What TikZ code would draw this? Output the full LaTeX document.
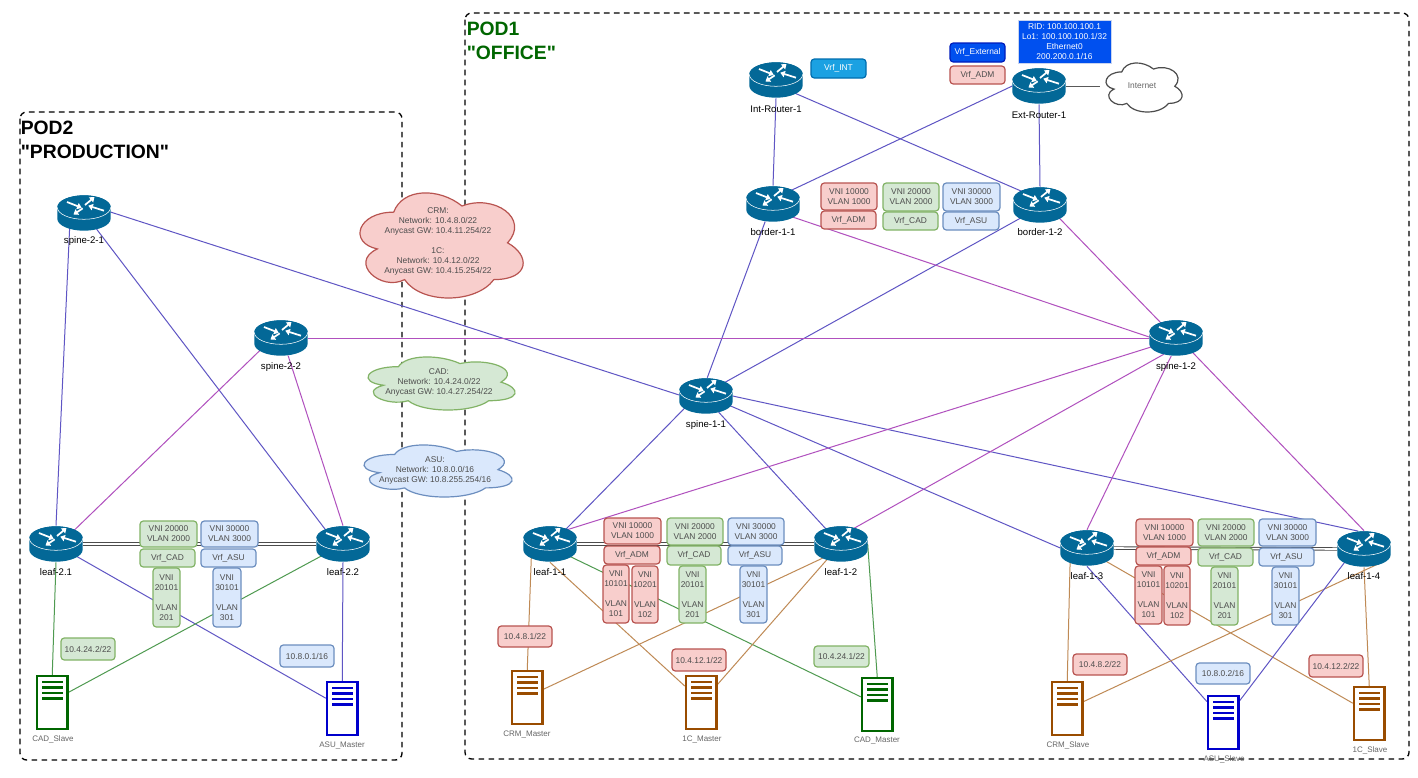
\documentclass[tikz,border=0pt]{standalone}
\usepackage{fontspec}
\setmainfont{Liberation Sans}
\newfontfamily\titlefont{Liberation Sans}
\usetikzlibrary{arrows.meta,shapes.geometric,backgrounds}
\definecolor{rtcol}{HTML}{036897}
\definecolor{redf}{HTML}{F8CECC}\definecolor{reds}{HTML}{B85450}
\definecolor{grnf}{HTML}{D5E8D4}\definecolor{grns}{HTML}{82B366}
\definecolor{bluf}{HTML}{DAE8FC}\definecolor{blus}{HTML}{6C8EBF}
\definecolor{txtc}{HTML}{4D4D4D}
\definecolor{lblue}{HTML}{5F55C4}\definecolor{lpurp}{HTML}{B050BE}
\definecolor{ltan}{HTML}{BF8A55}\definecolor{lgreen}{HTML}{4F9A50}
\definecolor{srvbr}{HTML}{994C00}\definecolor{srvgr}{HTML}{006600}\definecolor{srvbl}{HTML}{0000CC}
\definecolor{intf}{HTML}{1BA1E2}\definecolor{ints}{HTML}{006EAF}
\definecolor{extf}{HTML}{0050EF}\definecolor{exts}{HTML}{001DBC}
\definecolor{ridb}{HTML}{C8D4F0}\definecolor{podg}{HTML}{006600}
\tikzset{
  txt/.style={font=\fontsize{6.3pt}{7.5pt}\selectfont,text=txtc,align=center,inner sep=0pt},
  tag/.style={txt,rounded corners=2.5pt,line width=0.9pt},
  redbox/.style={tag,fill=redf,draw=reds},
  grnbox/.style={tag,fill=grnf,draw=grns},
  blubox/.style={tag,fill=bluf,draw=blus},
  routernode/.style={ellipse,minimum width=40pt,minimum height=27.5pt,inner sep=0pt,outer sep=0pt},
  rlabel/.style={font=\fontsize{7.2pt}{8pt}\selectfont,text=black,inner sep=0pt},
  slabel/.style={font=\fontsize{6pt}{7pt}\selectfont,text=black!60,inner sep=0pt},
  title/.style={font=\titlefont\fontsize{14.5pt}{18pt}\selectfont\bfseries,align=left,anchor=north west,inner sep=0pt},
  pod/.style={draw=black,line width=1pt,dash pattern=on 4.2pt off 3.3pt,rounded corners=5pt},
  blueln/.style={draw=lblue,line width=0.75pt},
  purpln/.style={draw=lpurp,line width=0.75pt},
  tanln/.style={draw=ltan,line width=0.75pt},
  grnln/.style={draw=lgreen,line width=0.75pt},
  dbl/.style={draw=black!70,double=white,double distance=1.2pt,line width=0.7pt},
}
% visual bounding box x1 y1 x2 y2 of the cloud
\newcommand\cloudart[6]{%
  \pgfmathsetmacro\cw{(#3-#1)/0.895}\pgfmathsetmacro\ch{(#4-#2)/0.856}%
  \pgfmathsetmacro\cxo{#1-0.065*\cw}\pgfmathsetmacro\cyo{#2-0.094*\ch}%
  \begin{scope}[shift={(\cxo,\cyo)},x=\cw*0.75pt,y=-\ch*0.75pt]
  \path[fill=#5,draw=#6,line width=0.9pt] (0.25,0.25)
    .. controls (0.05,0.25) and (0,0.5) .. (0.16,0.55)
    .. controls (0,0.66) and (0.18,0.9) .. (0.31,0.8)
    .. controls (0.4,1) and (0.7,1) .. (0.8,0.8)
    .. controls (1,0.8) and (1,0.6) .. (0.875,0.5)
    .. controls (1,0.3) and (0.8,0.1) .. (0.625,0.2)
    .. controls (0.5,0.05) and (0.3,0.05) .. (0.25,0.25) -- cycle;
  \end{scope}}
\newcommand\rtr[5]{% name cx cy labely label
  \node[routernode] (#1) at (#2,#3) {};
  \begin{scope}[shift={(#2,#3)}]
    \path[fill=rtcol] (-26.7,-5.7) -- (-26.7,5.7) arc[start angle=180,end angle=360,x radius=20pt,y radius=9pt]
      -- (26.7,-5.7) arc[start angle=0,end angle=180,x radius=20pt,y radius=9pt] -- cycle;
    \path[fill=rtcol] (0,-5.7) ellipse[x radius=20pt,y radius=9pt];
    \draw[white,line width=0.4pt] (-26.7,-5.7) arc[start angle=180,end angle=360,x radius=20pt,y radius=9pt];
    \begin{scope}[white,line width=1.3pt,-{Triangle[length=3.4pt,width=4.8pt]}]
      \draw (-17,-11) -- (-2.3,-5.2);
      \draw (1,-8) -- (10.5,-16);
      \draw (20,-2.3) -- (4.3,-7.3);
      \draw (-1.3,-4.6) -- (-10.5,1.5);
    \end{scope}
  \end{scope}
  \node[rlabel] (#1-lab) at (#2,#4) {#5};}
\newcommand\srv[7]{% name x1 y1 color labelx labely label
  \pgfmathsetmacro\scx{#2+15.25}\pgfmathsetmacro\scy{#3+26.5}%
  \node[rectangle,draw=#4,fill=white,line width=1.7pt,minimum width=22.9pt,minimum height=39.7pt,inner sep=0pt] (#1) at (\scx,\scy) {};
  \begin{scope}[shift={(#2,#3)}]
    \foreach \by in {6,11.5,17,22.5}{\draw[#4,line width=1.6pt] (5,\by) -- (26,\by);}
  \end{scope}
  \node[slabel] (#1-lab) at (#5,#6) {#7};}
\newcommand\bx[7]{% name x1 y1 x2 y2 style text
  \pgfmathsetmacro\cx{(#2+#4)/2}\pgfmathsetmacro\cy{(#3+#5)/2}%
  \pgfmathsetmacro\bw{(#4-#2)*0.75}\pgfmathsetmacro\bh{(#5-#3)*0.75}%
  \node[#6,minimum width=\bw pt,minimum height=\bh pt] (#1) at (\cx,\cy) {#7};}
\begin{document}
\begin{tikzpicture}[x=0.75pt,y=-0.75pt]
\useasboundingbox (0,0) rectangle (1418,778);
\begin{pgfonlayer}{background}
  \fill[white] (0,0) rectangle (1418,778);
  \draw[pod] (465,13) rectangle (1409,759);
  \draw[pod] (20,112) rectangle (402,760);
\end{pgfonlayer}

% clouds
\cloudart{360}{193}{523}{298}{redf}{reds}
\node[txt] (cloudcrm) at (438,241) {CRM:\\Network: 10.4.8.0/22\\Anycast GW: 10.4.11.254/22\\ \\1C:\\Network: 10.4.12.0/22\\Anycast GW: 10.4.15.254/22};
\cloudart{368}{357}{515}{410}{grnf}{grns}
\node[txt] (cloudcad) at (439,382) {CAD:\\Network: 10.4.24.0/22\\Anycast GW: 10.4.27.254/22};
\cloudart{364}{445}{512}{497}{bluf}{blus}
\node[txt] (cloudasu) at (435,470) {ASU:\\Network: 10.8.0.0/16\\Anycast GW: 10.8.255.254/16};
\cloudart{1106}{63}{1182}{112}{white}{black!70}
\node[txt,text=black!60,minimum width=63pt] (inet) at (1142,86) {Internet};

% routers
\rtr{introuter}{776}{80}{109}{Int-Router-1}
\rtr{extrouter}{1039}{86}{115}{Ext-Router-1}
\rtr{bordera}{773}{204}{232}{border-1-1}
\rtr{borderb}{1040}{205}{232}{border-1-2}
\rtr{spinetwoa}{84}{213}{241}{spine-2-1}
\rtr{spinetwob}{281}{338}{367}{spine-2-2}
\rtr{spineonea}{706}{396}{425}{spine-1-1}
\rtr{spineoneb}{1176}{338}{367}{spine-1-2}
\rtr{leaftwoa}{56}{544}{572}{leaf-2.1}
\rtr{leaftwob}{343}{544}{572}{leaf-2.2}
\rtr{leafa}{550}{544}{572}{leaf-1-1}
\rtr{leafb}{841}{544}{572}{leaf-1-2}
\rtr{leafc}{1087}{548}{576}{leaf-1-3}
\rtr{leafd}{1364}{549}{576}{leaf-1-4}

% servers
\srv{crmm}{512}{671}{srvbr}{527}{734}{CRM\_Master}
\srv{onecm}{686}{676}{srvbr}{702}{739}{1C\_Master}
\srv{cadm}{862}{678}{srvgr}{877}{740}{CAD\_Master}
\srv{cads}{37}{676}{srvgr}{53}{739}{CAD\_Slave}
\srv{asum}{327}{682}{srvbl}{342}{745}{ASU\_Master}
\srv{crms}{1052}{682}{srvbr}{1068}{745}{CRM\_Slave}
\srv{asus}{1208}{696}{srvbl}{1224}{759}{ASU\_Slave}
\srv{ones}{1354}{687}{srvbr}{1370}{750}{1C\_Slave}

% connectors
\begin{pgfonlayer}{background}
  \draw[blueln] (introuter.-90) -- (bordera.90);
  \draw[blueln] (introuter.-35) -- (borderb.143);
  \draw[blueln] (extrouter.180) -- (bordera.37);
  \draw[blueln] (extrouter.-90) -- (borderb.90);
  \draw[blueln] (bordera.-114) -- (spineonea.86);
  \draw[blueln] (borderb.214) -- (spineonea.36);
  \draw[blueln] (spinetwoa.2) -- (spineonea.178);
  \draw[purpln] (bordera.-34) -- (spineoneb.178);
  \draw[purpln] (borderb.-34) -- (spineoneb.135);
  \draw[purpln] (spinetwob.0) -- (spineoneb.180);
  \draw[blueln] (spinetwoa.-133) -- (leaftwoa.90);
  \draw[blueln] (spinetwoa.-52) -- (leaftwob.141);
  \draw[purpln] (spinetwob.210) -- (leaftwoa.37);
  \draw[purpln] (spinetwob.-68) -- (leaftwob.90);
  \draw[blueln] (spineonea.209) -- (leafa.43);
  \draw[blueln] (spineonea.-52) -- (leafb.135);
  \draw[blueln] (spineonea.-22) -- (leafc.180);
  \draw[blueln] (spineonea.0) -- (leafd.108);
  \draw[purpln] (spineoneb.200) -- (leafa.40);
  \draw[purpln] (spineoneb.233) -- (leafb.50);
  \draw[purpln] (spineoneb.255) -- (leafc.90);
  \draw[purpln] (spineoneb.-41) -- (leafd.90);
  \draw[dbl] (leaftwoa.0) -- (leaftwob.180);
  \draw[dbl] (leafa.0) -- (leafb.180);
  \draw[dbl] (leafc.0) -- (leafd.180);
  \draw[tanln] (leafa.215) -- (crmm.north);
  \draw[tanln] (leafa.-90) -- (onecm.135);
  \draw[grnln] (leafa.-32) -- (cadm.155);
  \draw[tanln] (leafb.218) -- (crmm.27);
  \draw[tanln] (leafb.228) -- (onecm.48);
  \draw[grnln] (leafb.0) -- (cadm.north);
  \draw[tanln] (leafc.220) -- (crms.north);
  \draw[tanln] (leafc.-35) -- (ones.148);
  \draw[blueln] (leafc.-90) -- (asus.128);
  \draw[tanln] (leafd.-32) -- (crms.23);
  \draw[tanln] (leafd.-90) -- (ones.north);
  \draw[blueln] (leafd.214) -- (asus.53);
  \draw[grnln] (leaftwoa.-90) -- (cads.north);
  \draw[blueln] (leaftwoa.-31) -- (asum.148);
  \draw[grnln] (leaftwob.209) -- (cads.32);
  \draw[blueln] (leaftwob.-90) -- (asum.north);
  \draw[draw=black!65,line width=0.75pt] (extrouter.0) -- (inet.west);
\end{pgfonlayer}

% top boxes
\bx{vrfint}{811}{59}{866}{78}{tag,fill=intf,draw=ints,text=white}{Vrf\_INT}
\bx{vrfext}{950}{43}{1005}{62}{tag,fill=extf,draw=exts,text=white}{Vrf\_External}
\bx{vrfadmt}{950}{66}{1005}{84}{redbox}{Vrf\_ADM}
\bx{ridbox}{1018}{20}{1111}{63}{txt,fill=extf,draw=ridb,line width=0.75pt,text=white}{RID: 100.100.100.1\\Lo1: 100.100.100.1/32\\Ethernet0\\200.200.0.1/16}
% border boxes
\bx{bvnia}{821}{183}{877}{210}{redbox}{VNI 10000\\VLAN 1000}
\bx{bvrfa}{821}{211}{876}{229}{redbox}{Vrf\_ADM}
\bx{bvnib}{883}{183}{939}{211}{grnbox}{VNI 20000\\VLAN 2000}
\bx{bvrfb}{883}{212}{938}{230}{grnbox}{Vrf\_CAD}
\bx{bvnic}{943}{183}{1000}{211}{blubox}{VNI 30000\\VLAN 3000}
\bx{bvrfc}{943}{212}{999}{230}{blubox}{Vrf\_ASU}
% leaf-1-1 / 1-2 boxes
\bx{avnia}{604}{518}{661}{544}{redbox}{VNI 10000\\VLAN 1000}
\bx{avrfa}{604}{546}{660}{564}{redbox}{Vrf\_ADM}
\bx{avnib}{667}{518}{723}{545}{grnbox}{VNI 20000\\VLAN 2000}
\bx{avrfb}{667}{546}{721}{565}{grnbox}{Vrf\_CAD}
\bx{avnic}{728}{518}{784}{545}{blubox}{VNI 30000\\VLAN 3000}
\bx{avrfc}{728}{546}{782}{565}{blubox}{Vrf\_ASU}
\bx{avl1}{603}{565}{629}{623}{redbox}{VNI\\10101\\ \\VLAN\\101}
\bx{avl2}{632}{566}{658}{623}{redbox}{VNI\\10201\\ \\VLAN\\102}
\bx{avl3}{679}{566}{706}{623}{grnbox}{VNI\\20101\\ \\VLAN\\201}
\bx{avl4}{740}{566}{767}{623}{blubox}{VNI\\30101\\ \\VLAN\\301}
\bx{aip1}{498}{626}{552}{647}{redbox}{10.4.8.1/22}
\bx{aip2}{672}{649}{726}{671}{redbox}{10.4.12.1/22}
\bx{aip3}{814}{646}{869}{667}{grnbox}{10.4.24.1/22}
% pod2 boxes
\bx{pvnib}{140}{521}{197}{547}{grnbox}{VNI 20000\\VLAN 2000}
\bx{pvrfb}{140}{549}{195}{567}{grnbox}{Vrf\_CAD}
\bx{pvnic}{201}{521}{258}{547}{blubox}{VNI 30000\\VLAN 3000}
\bx{pvrfc}{201}{549}{256}{567}{blubox}{Vrf\_ASU}
\bx{pvl3}{153}{568}{180}{627}{grnbox}{VNI\\20101\\ \\VLAN\\201}
\bx{pvl4}{213}{568}{241}{627}{blubox}{VNI\\30101\\ \\VLAN\\301}
\bx{pip1}{61}{638}{115}{660}{grnbox}{10.4.24.2/22}
\bx{pip2}{280}{645}{334}{667}{blubox}{10.8.0.1/16}
% leaf-1-3 / 1-4 boxes
\bx{cvnia}{1136}{519}{1193}{546}{redbox}{VNI 10000\\VLAN 1000}
\bx{cvrfa}{1136}{547}{1191}{565}{redbox}{Vrf\_ADM}
\bx{cvnib}{1198}{519}{1254}{546}{grnbox}{VNI 20000\\VLAN 2000}
\bx{cvrfb}{1198}{548}{1253}{566}{grnbox}{Vrf\_CAD}
\bx{cvnic}{1259}{519}{1316}{546}{blubox}{VNI 30000\\VLAN 3000}
\bx{cvrfc}{1259}{548}{1314}{566}{blubox}{Vrf\_ASU}
\bx{cvl1}{1135}{566}{1162}{624}{redbox}{VNI\\10101\\ \\VLAN\\101}
\bx{cvl2}{1164}{566}{1190}{625}{redbox}{VNI\\10201\\ \\VLAN\\102}
\bx{cvl3}{1211}{567}{1238}{625}{grnbox}{VNI\\20101\\ \\VLAN\\201}
\bx{cvl4}{1272}{567}{1299}{625}{blubox}{VNI\\30101\\ \\VLAN\\301}
\bx{cip1}{1073}{654}{1127}{675}{redbox}{10.4.8.2/22}
\bx{cip2}{1196}{663}{1250}{684}{blubox}{10.8.0.2/16}
\bx{cip3}{1309}{655}{1363}{677}{redbox}{10.4.12.2/22}

% titles
\node[title,text=black] (podtwo) at (20.5,121) {POD2\\"PRODUCTION"};
\node[title,text=podg] (podone) at (466.5,22) {POD1\\"OFFICE"};
\end{tikzpicture}
\end{document}
